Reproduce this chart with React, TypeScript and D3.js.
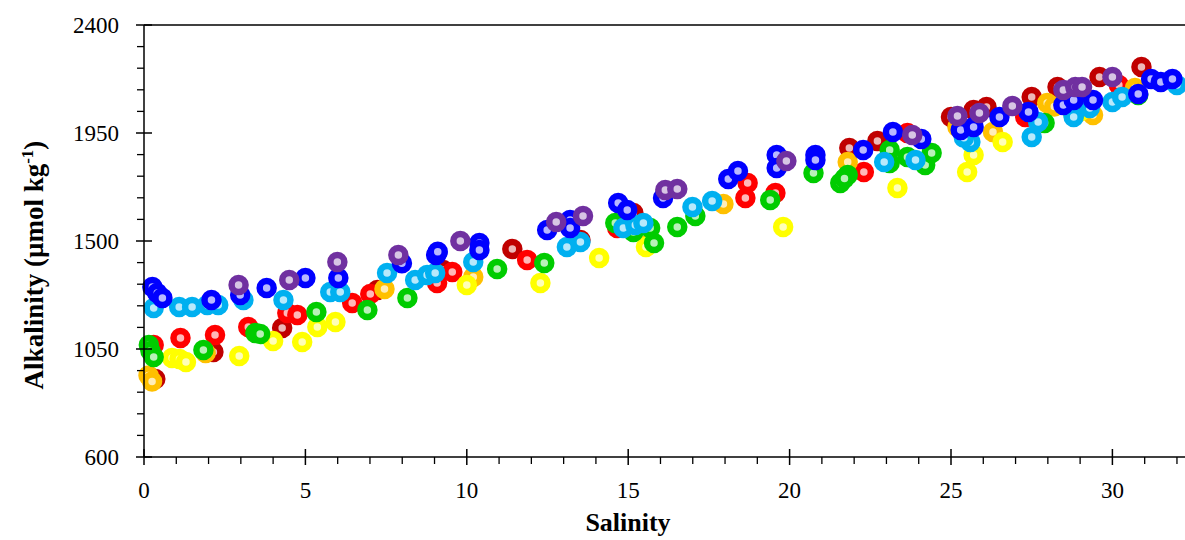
import React, { useEffect, useRef } from "react";
import * as d3 from "d3";

// salinity / alkalinity pairs, one array per station colour
const darkRed: [number, number][] = [
  [0.35, 925], [2.15, 1037], [4.28, 1137], [7.23, 1296], [9.27, 1379], [11.41, 1467],
  [13.52, 1504], [15.16, 1617], [21.85, 1887], [22.72, 1917], [25.0, 2017], [25.7, 2046],
  [26.1, 2058], [27.5, 2100], [28.3, 2142], [29.6, 2183], [30.9, 2225],
];
const red: [number, number][] = [
  [0.3, 1067], [1.13, 1096], [2.2, 1108], [3.23, 1142], [4.44, 1200], [4.75, 1192],
  [6.45, 1242], [7.01, 1279], [9.08, 1325], [9.55, 1371], [11.87, 1421], [14.66, 1554],
  [18.63, 1679], [18.7, 1742], [19.56, 1700], [22.3, 1788], [23.65, 1950], [27.3, 2017],
  [29.0, 2120], [30.2, 2150],
];
const orange: [number, number][] = [
  [0.14, 940], [0.25, 915], [1.91, 1033], [7.45, 1300], [10.2, 1350], [15.6, 1483],
  [17.95, 1654], [21.8, 1829], [25.2, 1975], [26.3, 1954], [27.98, 2075], [28.2, 2060],
  [29.4, 2025], [30.7, 2137],
];
const yellow: [number, number][] = [
  [0.87, 1012], [1.1, 1008], [1.3, 996], [2.95, 1021], [4.0, 1083], [4.9, 1079],
  [5.37, 1142], [5.93, 1162], [10.0, 1317], [12.28, 1325], [14.1, 1429], [15.55, 1475],
  [19.8, 1558], [23.34, 1721], [25.5, 1787], [25.7, 1858], [26.6, 1912], [29.0, 2040],
];
const green: [number, number][] = [
  [0.15, 1067], [0.2, 1042], [0.3, 1017], [1.84, 1046], [3.45, 1117], [3.6, 1113],
  [5.34, 1204], [6.92, 1212], [8.16, 1262], [10.94, 1383], [12.4, 1408], [14.6, 1575],
  [15.16, 1537], [15.68, 1554], [15.8, 1492], [16.52, 1558], [17.08, 1604], [19.4, 1671],
  [20.74, 1783], [21.57, 1742], [21.8, 1775], [21.7, 1760], [23.1, 1879], [23.1, 1825],
  [23.65, 1850], [24.2, 1817], [24.4, 1867], [27.9, 1992], [28.8, 2025], [30.8, 2108],
];
const lightBlue: [number, number][] = [
  [0.3, 1221], [1.09, 1225], [1.49, 1225], [1.96, 1233], [2.3, 1233], [3.08, 1254],
  [4.32, 1254], [5.77, 1287], [6.08, 1287], [7.53, 1367], [8.4, 1337], [8.77, 1358],
  [9.02, 1367], [10.2, 1412], [13.1, 1475], [13.52, 1496], [14.85, 1554], [15.22, 1567],
  [15.47, 1575], [16.99, 1642], [17.6, 1667], [22.93, 1829], [23.9, 1837], [25.6, 1912],
  [25.4, 1930], [27.5, 1933], [27.7, 1996], [28.8, 2017], [29.3, 2054], [30.0, 2079],
  [30.3, 2100], [32.0, 2150],
];
const blue: [number, number][] = [
  [0.26, 1308], [0.41, 1283], [0.57, 1262], [2.09, 1254], [2.98, 1275], [3.8, 1304],
  [5.0, 1346], [6.02, 1346], [7.99, 1407], [9.05, 1442], [9.1, 1455], [10.39, 1492],
  [10.39, 1463], [12.49, 1546], [13.2, 1587], [13.2, 1554], [14.69, 1658], [14.97, 1629],
  [16.08, 1679], [18.1, 1758], [18.4, 1792], [19.6, 1858], [19.6, 1804], [20.8, 1858],
  [20.8, 1837], [22.28, 1879], [23.2, 1954], [24.08, 1925], [25.3, 1962], [25.7, 1975],
  [26.5, 2017], [27.4, 2037], [28.48, 2067], [28.8, 2087], [29.4, 2087], [30.8, 2112],
  [31.2, 2175], [31.5, 2162], [31.86, 2175],
];
const purple: [number, number][] = [
  [2.93, 1317], [4.5, 1337], [5.99, 1412], [7.88, 1442], [9.8, 1500], [12.77, 1579],
  [13.6, 1604], [16.15, 1712], [16.52, 1717], [19.9, 1833], [23.8, 1942], [25.2, 2021],
  [25.88, 2033], [26.9, 2062], [28.48, 2129], [28.85, 2142], [29.06, 2142], [30.0, 2183],
];

const xTicks = [0, 5, 10, 15, 20, 25, 30];
const yTicks = [600, 1050, 1500, 1950, 2400];

const series = [
  { color: "#C00000", data: darkRed },
  { color: "#FF0000", data: red },
  { color: "#FFC000", data: orange },
  { color: "#FFFF00", data: yellow },
  { color: "#00CC00", data: green },
  { color: "#00B0F0", data: lightBlue },
  { color: "#0000FF", data: blue },
  { color: "#7030A0", data: purple },
];

const W = 1185;
const H = 540;
const left = 144;
const top = 25;
const bottom = 457;
const FONT = "Times New Roman";

export default function App() {
  const ref = useRef<SVGSVGElement>(null);

  useEffect(() => {
    const svg = d3.select(ref.current);
    svg.selectAll("*").remove();

    const x = d3.scaleLinear().domain([0, 32.3]).range([left, left + 32.3 * 32.28]);
    const y = d3.scaleLinear().domain([600, 2400]).range([bottom, top]);

    // rings
    series.forEach((s) => {
      const hole = d3.interpolateRgb(s.color, "#fff")(0.72);
      svg
        .append("g")
        .selectAll("circle")
        .data(s.data)
        .enter()
        .append("circle")
        .attr("cx", (d) => x(d[0]))
        .attr("cy", (d) => y(d[1]))
        .attr("r", 7)
        .attr("fill", hole)
        .attr("stroke", s.color)
        .attr("stroke-width", 6.5);
    });

    // frame: left, bottom, top
    const frame = [
      [left, top, left, bottom],
      [left, bottom, W, bottom],
      [left, top, W, top],
    ];
    frame.forEach((f) =>
      svg
        .append("line")
        .attr("x1", f[0]).attr("y1", f[1]).attr("x2", f[2]).attr("y2", f[3])
        .attr("stroke", "#000").attr("stroke-width", 1.5)
    );

    const xMinor = d3.range(0, 33, 1).filter((v) => v % 5 !== 0);
    const yMinor = d3.range(600, 2400, 90).filter((v) => (v - 600) % 450 !== 0);

    svg.append("g").selectAll("line").data(xMinor).enter().append("line")
      .attr("x1", (d) => x(d)).attr("x2", (d) => x(d))
      .attr("y1", bottom).attr("y2", bottom + 7)
      .attr("stroke", "#000").attr("stroke-width", 1.3);
    svg.append("g").selectAll("line").data(xTicks).enter().append("line")
      .attr("x1", (d) => x(d)).attr("x2", (d) => x(d))
      .attr("y1", bottom - 8).attr("y2", bottom + 8)
      .attr("stroke", "#000").attr("stroke-width", 1.5);
    svg.append("g").selectAll("text").data(xTicks).enter().append("text")
      .attr("x", (d) => x(d)).attr("y", 498)
      .attr("text-anchor", "middle")
      .style("font-family", FONT).style("font-size", "23px")
      .text((d) => d);

    svg.append("g").selectAll("line").data(yMinor).enter().append("line")
      .attr("x1", left - 7).attr("x2", left)
      .attr("y1", (d) => y(d)).attr("y2", (d) => y(d))
      .attr("stroke", "#000").attr("stroke-width", 1.3);
    svg.append("g").selectAll("line").data(yTicks).enter().append("line")
      .attr("x1", left - 8).attr("x2", left + 8)
      .attr("y1", (d) => y(d)).attr("y2", (d) => y(d))
      .attr("stroke", "#000").attr("stroke-width", 1.5);
    svg.append("g").selectAll("text").data(yTicks).enter().append("text")
      .attr("x", 119).attr("y", (d) => y(d) + 8)
      .attr("text-anchor", "end")
      .style("font-family", FONT).style("font-size", "23px")
      .text((d) => d);

    svg.append("text")
      .attr("x", 628).attr("y", 531)
      .attr("text-anchor", "middle")
      .style("font-family", FONT).style("font-size", "26px").style("font-weight", "bold")
      .text("Salinity");

    const yTitle = svg.append("text")
      .attr("transform", "translate(43,265) rotate(-90)")
      .attr("text-anchor", "middle")
      .style("font-family", FONT).style("font-size", "27px").style("font-weight", "bold");
    yTitle.append("tspan").text("Alkalinity (µmol kg");
    yTitle.append("tspan").style("font-size", "17px").attr("dy", -10).text("-1");
    yTitle.append("tspan").attr("dy", 10).text(")");
  }, []);

  return (
    <svg
      ref={ref}
      width={W}
      height={H}
      style={{ position: "absolute", left: 0, top: 0, background: "#fff" }}
    />
  );
}
